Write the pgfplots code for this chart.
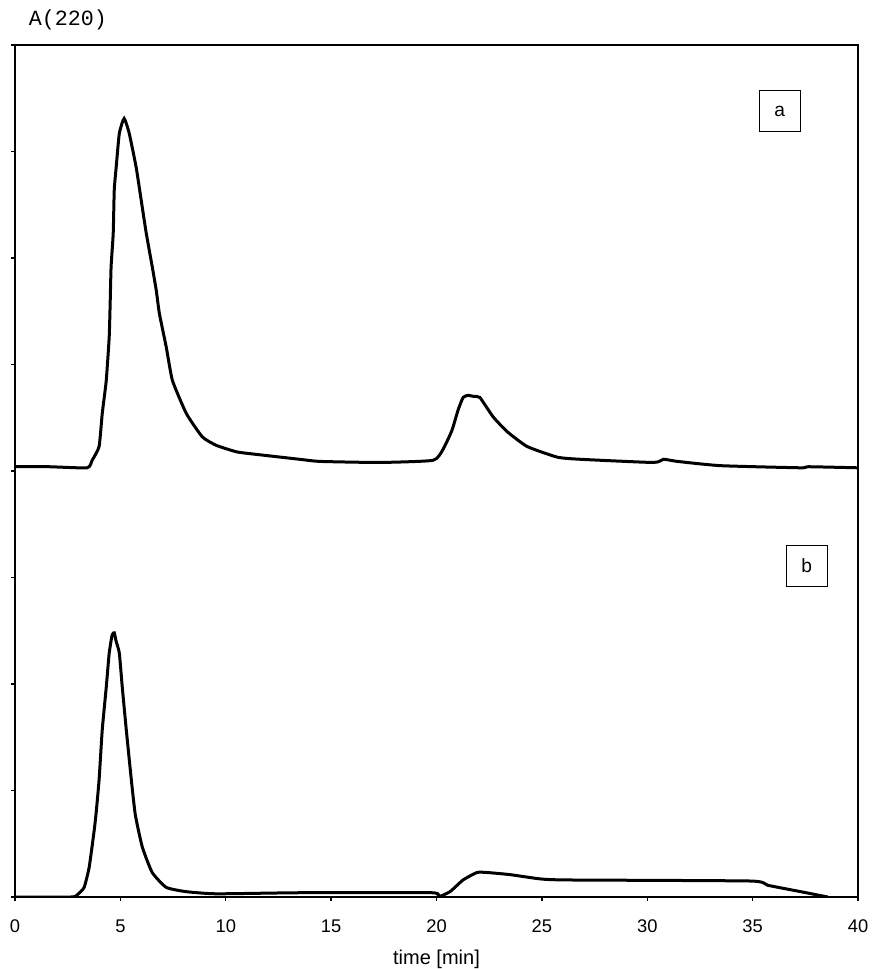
\documentclass[border=0pt]{standalone}
\usepackage{pgfplots}
\pgfplotsset{compat=1.18}
\usepackage{fontspec}
\setmainfont{Liberation Sans}
\newfontfamily\courier{Liberation Mono}
\usetikzlibrary{calc}

% chromatogram traces (x in min, y in axis units)
\pgfplotstableread{
x y
0 4.04
1.62 4.04
3.42 4.03
3.66 4.10
3.99 4.23
4.14 4.54
4.33 4.85
4.47 5.26
4.52 5.61
4.56 5.92
4.66 6.23
4.71 6.64
4.80 6.85
4.95 7.17
5.18 7.31
5.42 7.17
5.75 6.85
5.99 6.54
6.23 6.23
6.51 5.92
6.70 5.70
6.85 5.48
7.18 5.16
7.47 4.85
8.13 4.54
8.89 4.32
9.56 4.24
10.51 4.18
11.27 4.16
13.50 4.11
14.46 4.09
17.31 4.08
19.83 4.10
20.30 4.20
20.73 4.38
21.02 4.57
21.26 4.69
21.49 4.71
21.78 4.70
22.06 4.69
22.68 4.51
23.35 4.37
24.30 4.23
25.73 4.13
26.82 4.11
30.29 4.08
30.77 4.11
31.43 4.09
33.48 4.05
37.28 4.03
37.66 4.04
40.00 4.03
}\tracea

\pgfplotstableread{
x y
0 0
2.66 0
2.95 0.02
3.28 0.09
3.52 0.28
3.76 0.63
3.85 0.79
3.99 1.10
4.14 1.57
4.33 1.97
4.47 2.29
4.61 2.46
4.71 2.48
4.80 2.40
4.95 2.29
5.09 1.97
5.28 1.57
5.52 1.10
5.71 0.77
6.04 0.47
6.51 0.23
7.18 0.09
8.13 0.05
9.56 0.03
13.50 0.04
19.78 0.04
20.07 0.00
20.64 0.05
21.26 0.16
21.92 0.23
22.40 0.23
23.49 0.21
24.92 0.17
26.20 0.16
34.90 0.15
35.71 0.11
37.28 0.05
38.56 0.00
}\traceb

\begin{document}
\begin{tikzpicture}
\begin{axis}[
  scale only axis,
  width=505.8pt, height=511.2pt,
  xmin=0, xmax=40, ymin=0, ymax=8,
  xtick={0,5,...,40}, ytick={0,1,...,8},
  yticklabels={},
  tick align=outside,
  major tick length=2.4pt,
  xtick pos=bottom, ytick pos=left,
  axis line style={line width=1.1pt},
  tick style={line width=0.8pt, black},
  /pgf/number format/assume math mode=true,
  tick label style={font=\fontsize{11}{13}\selectfont},
  xticklabel style={yshift=-7.7pt},
  xlabel={time [min]},
  xlabel style={font=\fontsize{12}{14}\selectfont, at={(axis description cs:0.5,0)}, anchor=center, yshift=-37.6pt},
]
\addplot[black, line width=1.8pt, mark=none, smooth, tension=0.3] table {\tracea};
\addplot[black, line width=1.8pt, mark=none, smooth, tension=0.3] table {\traceb};

\node[draw, line width=0.6pt, minimum size=24.6pt, inner sep=0pt, font=\fontsize{11.5}{13}\selectfont] at (axis cs:36.28,7.38) {a};
\node[draw, line width=0.6pt, minimum size=24.6pt, inner sep=0pt, font=\fontsize{11.5}{13}\selectfont] at (axis cs:37.57,3.11) {b};

\coordinate (sw) at (rel axis cs:0,0);
\coordinate (ne) at (rel axis cs:1,1);
\coordinate (nw) at (rel axis cs:0,1);
\end{axis}
\node[font=\courier\fontsize{13}{14}\selectfont] at ($(nw)+(31.8pt,15pt)$) {A(220)};
\pgfresetboundingbox
\path[use as bounding box] ($(sw)+(-9pt,-43.2pt)$) rectangle ($(ne)+(7.8pt,27pt)$);
\end{tikzpicture}
\end{document}
